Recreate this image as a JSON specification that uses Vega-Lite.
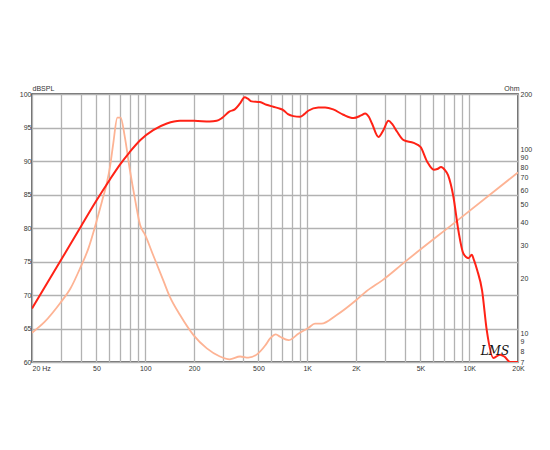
{
  "$schema": "https://vega.github.io/schema/vega-lite/v6.json",
  "width": 486,
  "height": 268,
  "autosize": {"type": "none"},
  "padding": {"left": 32, "top": 94, "right": 32, "bottom": 88},
  "background": "white",
  "config": {
    "view": {"stroke": "#3c3c3c", "strokeWidth": 1.5},
    "axis": {
      "labelFont": "Liberation Sans",
      "labelFontSize": 7,
      "labelColor": "#333333",
      "titleFont": "Liberation Sans",
      "titleFontSize": 7,
      "titleColor": "#333333",
      "titleFontWeight": "normal"
    }
  },
  "datasets": {
    "spl": [
      {"freq": 20, "db": 68.0}, {"freq": 30, "db": 75.1}, {"freq": 40, "db": 80.2},
      {"freq": 50, "db": 84.1}, {"freq": 60, "db": 87.1}, {"freq": 70, "db": 89.5},
      {"freq": 80, "db": 91.3}, {"freq": 93, "db": 93.1}, {"freq": 112, "db": 94.6},
      {"freq": 136, "db": 95.6}, {"freq": 164, "db": 96.0}, {"freq": 200, "db": 96.0},
      {"freq": 250, "db": 95.9}, {"freq": 276, "db": 96.0},
      {"freq": 297, "db": 96.4}, {"freq": 332, "db": 97.4}, {"freq": 357, "db": 97.7},
      {"freq": 385, "db": 98.6}, {"freq": 411, "db": 99.5}, {"freq": 430, "db": 99.3},
      {"freq": 454, "db": 98.9}, {"freq": 510, "db": 98.8}, {"freq": 560, "db": 98.4},
      {"freq": 617, "db": 98.1}, {"freq": 680, "db": 97.8}, {"freq": 711, "db": 97.6},
      {"freq": 760, "db": 97.0}, {"freq": 821, "db": 96.7}, {"freq": 902, "db": 96.6},
      {"freq": 960, "db": 97.0}, {"freq": 1014, "db": 97.5}, {"freq": 1170, "db": 98.0},
      {"freq": 1290, "db": 98.0}, {"freq": 1447, "db": 97.7}, {"freq": 1670, "db": 96.9},
      {"freq": 1930, "db": 96.4}, {"freq": 2150, "db": 96.8}, {"freq": 2280, "db": 97.1},
      {"freq": 2400, "db": 96.6}, {"freq": 2510, "db": 95.6}, {"freq": 2750, "db": 93.6},
      {"freq": 2950, "db": 94.6}, {"freq": 3170, "db": 96.0}, {"freq": 3350, "db": 95.5},
      {"freq": 3580, "db": 94.4}, {"freq": 3940, "db": 93.1}, {"freq": 4540, "db": 92.7},
      {"freq": 5000, "db": 92.1}, {"freq": 5500, "db": 89.9}, {"freq": 6050, "db": 88.7},
      {"freq": 6350, "db": 88.8}, {"freq": 6700, "db": 89.1}, {"freq": 7100, "db": 88.6},
      {"freq": 7400, "db": 87.9}, {"freq": 7700, "db": 86.5}, {"freq": 7980, "db": 84.7},
      {"freq": 8560, "db": 79.7}, {"freq": 9200, "db": 76.2}, {"freq": 9880, "db": 75.5},
      {"freq": 10370, "db": 76.0}, {"freq": 10700, "db": 75.2}, {"freq": 11200, "db": 73.7},
      {"freq": 12000, "db": 70.7}, {"freq": 12820, "db": 64.8}, {"freq": 14100, "db": 60.6},
      {"freq": 15500, "db": 61.1}, {"freq": 16500, "db": 60.8}, {"freq": 17900, "db": 60.0},
      {"freq": 20000, "db": 60.0}
    ],
    "imp": [
      {"freq": 20, "ohm": 10.1}, {"freq": 24, "ohm": 11.6}, {"freq": 29.8, "ohm": 14.6},
      {"freq": 34.6, "ohm": 17.6}, {"freq": 39.6, "ohm": 22.6}, {"freq": 44.6, "ohm": 29.0},
      {"freq": 50.3, "ohm": 41.3}, {"freq": 54, "ohm": 52}, {"freq": 57.9, "ohm": 65.5},
      {"freq": 60.8, "ohm": 82}, {"freq": 63.5, "ohm": 108}, {"freq": 67.3, "ohm": 149},
      {"freq": 70.5, "ohm": 149}, {"freq": 74.8, "ohm": 117}, {"freq": 80.4, "ohm": 77.3},
      {"freq": 86.7, "ohm": 53}, {"freq": 93, "ohm": 38.8}, {"freq": 99.8, "ohm": 34.3},
      {"freq": 112, "ohm": 26.6}, {"freq": 129.6, "ohm": 19.3}, {"freq": 142, "ohm": 15.8},
      {"freq": 164, "ohm": 12.6}, {"freq": 198.6, "ohm": 9.8}, {"freq": 240, "ohm": 8.3},
      {"freq": 289, "ohm": 7.5}, {"freq": 332, "ohm": 7.24}, {"freq": 385, "ohm": 7.5},
      {"freq": 433, "ohm": 7.4}, {"freq": 498, "ohm": 7.8}, {"freq": 550, "ohm": 8.6},
      {"freq": 590, "ohm": 9.4}, {"freq": 640, "ohm": 9.9}, {"freq": 680, "ohm": 9.6},
      {"freq": 767, "ohm": 9.2}, {"freq": 886, "ohm": 10.0}, {"freq": 1014, "ohm": 10.7},
      {"freq": 1116, "ohm": 11.3}, {"freq": 1221, "ohm": 11.3}, {"freq": 1520, "ohm": 12.6},
      {"freq": 2010, "ohm": 15.2}, {"freq": 2310, "ohm": 16.9}, {"freq": 2920, "ohm": 19.5},
      {"freq": 4010, "ohm": 24.5}, {"freq": 8510, "ohm": 41.3}, {"freq": 20000, "ohm": 75}
    ],
    "mark": [
      {"freq": 14400, "db": 61.6, "label": "LMS"}
    ]
  },
  "layer": [
    {
      "data": {"name": "imp"},
      "mark": {"type": "line", "color": "#fdb394", "strokeWidth": 1.8, "interpolate": "monotone", "clip": true},
      "encoding": {
        "x": {
          "field": "freq", "type": "quantitative",
          "scale": {"type": "log", "domain": [20, 20000]},
          "axis": {
            "values": [20, 30, 40, 50, 60, 70, 80, 90, 100, 200, 300, 400, 500, 600, 700, 800, 900, 1000, 2000, 3000, 4000, 5000, 6000, 7000, 8000, 9000, 10000, 20000],
            "labelExpr": "datum.value==20?'20  Hz':datum.value==50?'50':datum.value==100?'100':datum.value==200?'200':datum.value==500?'500':datum.value==1000?'1K':datum.value==2000?'2K':datum.value==5000?'5K':datum.value==10000?'10K':datum.value==20000?'20K':''",
            "labelFlush": false,
            "labelAlign": {"condition": {"test": "datum.value == 20", "value": "left"}, "value": "center"},
            "labelPadding": 2,
            "ticks": false,
            "domain": false,
            "title": null,
            "grid": true,
            "gridColor": "#b2b2b2",
            "gridWidth": 1.3
          }
        },
        "y": {
          "field": "ohm", "type": "quantitative",
          "scale": {"type": "log", "domain": [7, 200]},
          "axis": {
            "orient": "right",
            "values": [7, 8, 9, 10, 20, 30, 40, 50, 60, 70, 80, 90, 100, 200],
            "format": "d",
            "grid": false,
            "ticks": false,
            "domain": false,
            "labelPadding": 2,
            "title": "Ohm",
            "titleAngle": 0,
            "titleAlign": "right",
            "titleBaseline": "alphabetic",
            "titleX": 1,
            "titleY": -4
          }
        }
      }
    },
    {
      "data": {"name": "spl"},
      "mark": {"type": "line", "color": "#ff2216", "strokeWidth": 2, "interpolate": "monotone", "clip": true},
      "encoding": {
        "x": {"field": "freq", "type": "quantitative", "scale": {"type": "log", "domain": [20, 20000]}},
        "y": {
          "field": "db", "type": "quantitative",
          "scale": {"domain": [60, 100]},
          "axis": {
            "orient": "left",
            "values": [60, 65, 70, 75, 80, 85, 90, 95, 100],
            "grid": true,
            "gridColor": "#b2b2b2",
            "gridWidth": 1.3,
            "ticks": false,
            "domain": false,
            "labelPadding": 1,
            "title": "dBSPL",
            "titleAngle": 0,
            "titleAlign": "left",
            "titleBaseline": "alphabetic",
            "titleX": 0,
            "titleY": -4
          }
        }
      }
    },
    {
      "data": {"name": "mark"},
      "mark": {"type": "text", "font": "DejaVu Serif", "fontStyle": "italic", "fontSize": 12, "color": "#111111"},
      "encoding": {
        "x": {"field": "freq", "type": "quantitative", "scale": {"type": "log", "domain": [20, 20000]}},
        "y": {"field": "db", "type": "quantitative", "scale": {"domain": [60, 100]}, "axis": null},
        "text": {"field": "label"}
      }
    }
  ],
  "resolve": {"scale": {"y": "independent"}}
}
